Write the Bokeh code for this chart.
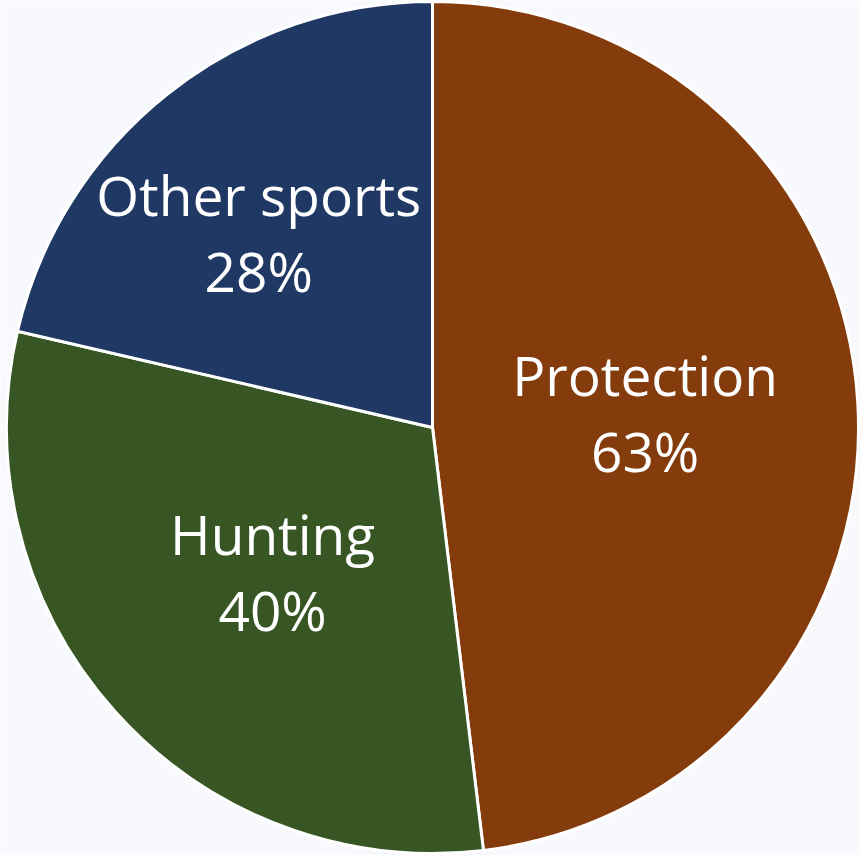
import math
from bokeh.plotting import figure
from bokeh.models import ColumnDataSource
from bokeh.core.properties import value
from bokeh.embed import file_html
from bokeh.resources import INLINE

categories = ["Protection", "Hunting", "Other sports"]
values = [63, 40, 28]
colors = ["#843C0C", "#375623", "#203864"]
pct_labels = ["63%", "40%", "28%"]

R = 426
total = sum(values)
starts, ends, lx, ly = [], [], [], []
cum = 0.0
label_r = [0.50, 0.52, 0.58]
nudge_x = [0, 5, -20]
nudge_y = [15, 17, 15]
for i, v in enumerate(values):
    a0 = cum / total * 2 * math.pi
    cum += v
    a1 = cum / total * 2 * math.pi
    starts.append(math.pi / 2 - a0)
    ends.append(math.pi / 2 - a1)
    mid = (a0 + a1) / 2
    lx.append(label_r[i] * R * math.sin(mid) + nudge_x[i])
    ly.append(label_r[i] * R * math.cos(mid) + nudge_y[i])

src = ColumnDataSource(dict(start=starts, end=ends, color=colors,
                            name=categories, pct=pct_labels, lx=lx, ly=ly))

p = figure(width=860, height=855, x_range=(-432, 428), y_range=(-428, 427),
           output_backend="svg", toolbar_location=None, min_border=0,
           background_fill_color="#F7F9FC", border_fill_color="#F7F9FC")
p.axis.visible = False
p.grid.visible = False
p.outline_line_color = None

p.wedge(x=0, y=0, radius=R, start_angle="start", end_angle="end", direction="clock",
        fill_color="color", line_color="white", line_width=3, source=src)

p.text(x="lx", y="ly", text="name", source=src, text_color="white",
       text_font=value("Open Sans"), text_font_size="55px",
       text_align="center", text_baseline="alphabetic", y_offset=-25)
p.text(x="lx", y="ly", text="pct", source=src, text_color="white",
       text_font=value("Open Sans"), text_font_size="55px",
       text_align="center", text_baseline="alphabetic", y_offset=51)

open("out.html", "w").write(file_html(p, INLINE))
